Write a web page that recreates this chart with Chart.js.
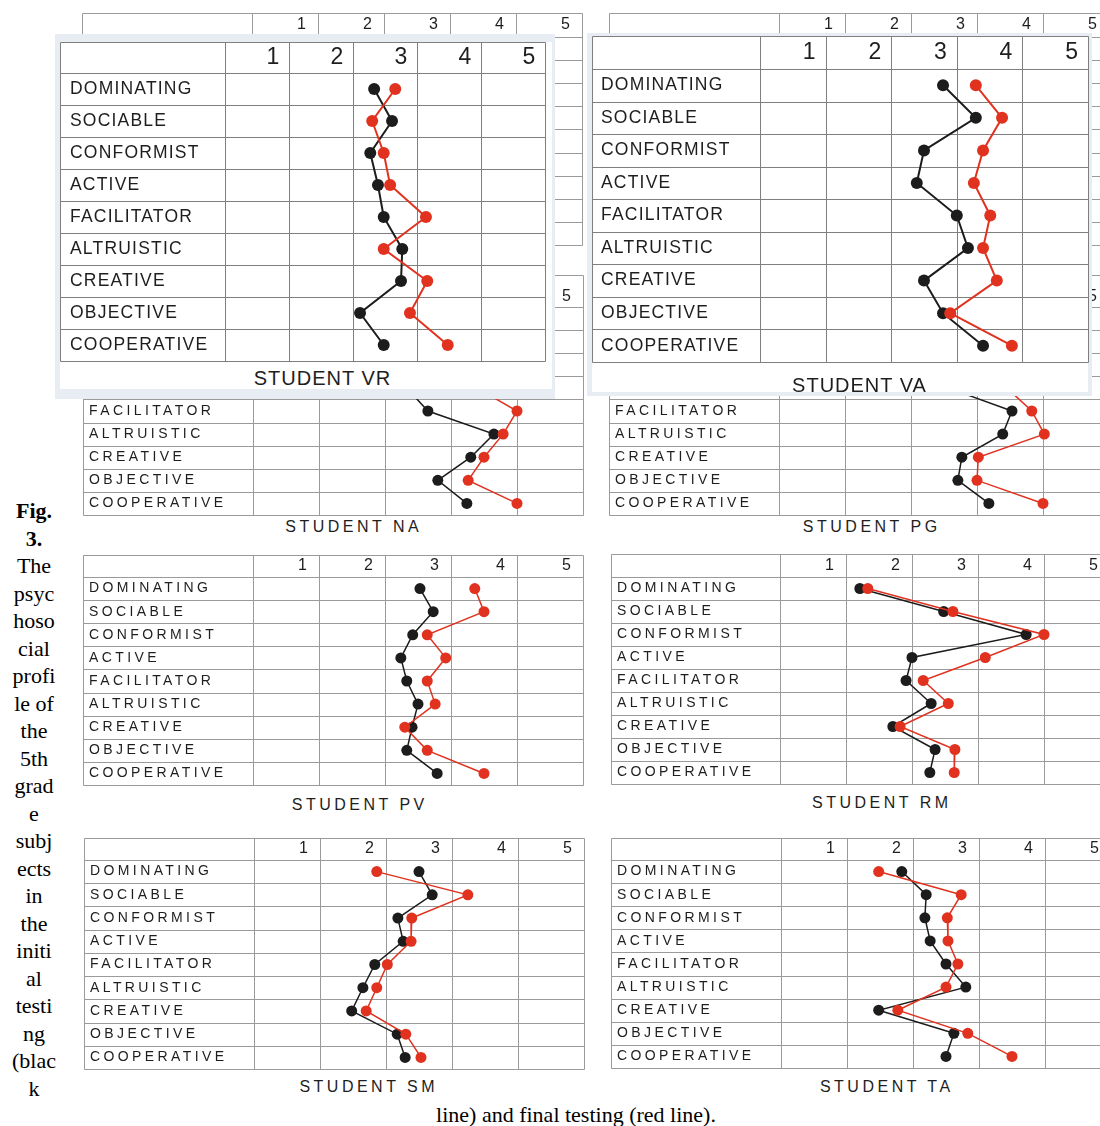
<!DOCTYPE html>
<html>
<head>
<meta charset="utf-8">
<script src="https://cdn.jsdelivr.net/npm/chart.js@4.4.1/dist/chart.umd.min.js"></script>
<style>
  body { margin: 0; width: 1100px; height: 1126px; background: #fff; position: relative; overflow: hidden; font-family: 'Liberation Sans', Arial, sans-serif; }
  .box { position: absolute; background: #fff; border-style: solid; border-color: #e8ecf3; box-sizing: border-box; }
  .ttl { position: absolute; width: 400px; text-align: center; color: #1e1e1e; white-space: nowrap; }
  .cap { position: absolute; font-family: 'Liberation Serif', 'Times New Roman', serif; font-size: 22px; color: #000; text-align: center; white-space: nowrap; }
</style>
</head>
<body>
<script>
// categories and tick labels
const traits = ['DOMINATING', 'SOCIABLE', 'CONFORMIST', 'ACTIVE', 'FACILITATOR', 'ALTRUISTIC', 'CREATIVE', 'OBJECTIVE', 'COOPERATIVE'];
const scaleTicks = [1, 2, 3, 4, 5];

// initial testing (black) / final testing (red); null = hidden behind the front panels
const vrInitial = [2.58, 2.86, 2.52, 2.64, 2.73, 3.02, 3.00, 2.36, 2.73];
const vrFinal   = [2.91, 2.55, 2.73, 2.83, 3.39, 2.73, 3.41, 3.14, 3.73];
const vaInitial = [3.04, 3.54, 2.75, 2.64, 3.25, 3.42, 2.75, 3.04, 3.65];
const vaFinal   = [3.54, 3.94, 3.65, 3.51, 3.76, 3.65, 3.86, 3.15, 4.09];
const naInitial = [null, null, null, 2.58, 2.90, 3.90, 3.55, 3.05, 3.49];
const naFinal   = [null, null, null, 3.64, 4.25, 4.04, 3.75, 3.51, 4.25];
const pgInitial = [null, null, null, 2.81, 3.78, 3.64, 3.02, 2.96, 3.43];
const pgFinal   = [null, null, null, 3.70, 4.08, 4.27, 3.27, 3.25, 4.25];
const pvInitial = [2.78, 2.98, 2.67, 2.49, 2.58, 2.75, 2.66, 2.58, 3.04];
const pvFinal   = [3.61, 3.75, 2.89, 3.17, 2.89, 3.01, 2.55, 2.89, 3.75];
const rmInitial = [1.46, 2.73, 3.98, 2.25, 2.16, 2.54, 1.96, 2.60, 2.52];
const rmFinal   = [1.58, 2.87, 4.25, 3.36, 2.42, 2.80, 2.07, 2.90, 2.89];
const smInitial = [2.75, 2.95, 2.43, 2.51, 2.08, 1.90, 1.73, 2.42, 2.54];
const smFinal   = [2.11, 3.49, 2.64, 2.63, 2.27, 2.11, 1.95, 2.55, 2.78];
const taInitial = [2.08, 2.45, 2.43, 2.51, 2.75, 3.05, 1.73, 2.87, 2.75];
const taFinal   = [1.73, 2.98, 2.77, 2.78, 2.93, 2.75, 2.02, 3.08, 3.75];

const BLACK = '#1c1c1c', RED = '#e0321f';
const small = { labelFont: 14, numFont: 16, ls: 3.4, titleFont: 16, titleLs: 3.5, dot: 5.5, line: 1.5, labelPad: 6, grid: '#9a9a9a' };
const big = { labelFont: 17.5, numFont: 23, ls: 1.2, titleFont: 20, titleLs: 1, dot: 6, line: 2, grid: '#7f7f7f' };

// draws the table lines from the scales, and sets the wide lettering
const tableGrid = {
  id: 'tableGrid',
  beforeDraw(chart, args, opts) {
    chart.ctx.letterSpacing = opts.letterSpacing;
  },
  beforeDatasetsDraw(chart, args, opts) {
    const { ctx, chartArea: a, scales: { x, y } } = chart;
    const left = Math.round(y.left - opts.labelPad) + 0.5;
    const top = Math.round(x.top) + 0.5;
    const bottom = Math.round(a.bottom) + 0.5;
    const right = Math.round(a.right) + 0.5;
    ctx.save();
    ctx.letterSpacing = '0px';
    ctx.strokeStyle = opts.color;
    ctx.lineWidth = 1;
    ctx.beginPath();
    for (let i = 0; i <= traits.length; i++) {
      const py = Math.round(y.getPixelForValue(i - 0.5)) + 0.5;
      ctx.moveTo(left, py); ctx.lineTo(right, py);
    }
    ctx.moveTo(left, top); ctx.lineTo(right, top);
    for (let k = 0; k <= 5; k++) {
      const px = Math.round(x.getPixelForValue(k + 0.25)) + 0.5;
      ctx.moveTo(px, top); ctx.lineTo(px, bottom);
    }
    ctx.moveTo(left, top); ctx.lineTo(left, bottom);
    ctx.stroke();
    ctx.restore();
  }
};

function addBox(b) {
  const d = document.createElement('div');
  d.className = 'box';
  d.style.cssText = `left:${b.left}px;top:${b.top}px;width:${b.width}px;height:${b.height}px;border-width:${b.bw.join('px ')}px;`;
  document.body.appendChild(d);
}

function addTitle(p) {
  if (!p.title) return;
  const d = document.createElement('div');
  d.className = 'ttl';
  const lh = p.titleFont * 1.2;
  d.style.cssText = `left:${p.tx - 200 + p.titleLs / 2}px;top:${p.ty - lh / 2}px;font-size:${p.titleFont}px;line-height:${lh}px;letter-spacing:${p.titleLs}px;`;
  d.textContent = p.title;
  document.body.appendChild(d);
}

function makePanel(p) {
  const w = Math.round(p.labelW + 5 * p.colW + 2);
  const h = Math.round(p.headerH + traits.length * p.rowH + 2);
  const wrap = document.createElement('div');
  wrap.style.cssText = `position:absolute;left:${p.left - 1}px;top:${p.top - 1}px;width:${w}px;height:${h}px;`;
  const canvas = document.createElement('canvas');
  wrap.appendChild(canvas);
  document.body.appendChild(wrap);

  const datasets = [];
  if (p.initial) {
    datasets.push({ data: p.initial, borderColor: BLACK, backgroundColor: BLACK, pointBackgroundColor: BLACK,
      pointRadius: p.dot, pointBorderWidth: 0, borderWidth: p.line, order: 1 });
    datasets.push({ data: p.final, borderColor: RED, backgroundColor: RED, pointBackgroundColor: RED,
      pointRadius: p.dot, pointBorderWidth: 0, borderWidth: p.line, order: 0 });
  }

  const numLh = p.numFont * 1.2;
  new Chart(canvas, {
    type: 'line',
    data: { labels: traits, datasets },
    plugins: [tableGrid],
    options: {
      indexAxis: 'y',
      responsive: true,
      maintainAspectRatio: false,
      animation: false,
      devicePixelRatio: 1,
      layout: { autoPadding: false, padding: { left: 1 + p.labelPad, top: 1, right: 1, bottom: 1 } },
      plugins: {
        legend: { display: false },
        tooltip: { enabled: false },
        tableGrid: { letterSpacing: p.ls + 'px', labelPad: p.labelPad, color: p.grid }
      },
      scales: {
        x: {
          type: 'linear', position: 'top', min: 0.25, max: 5.25,
          grid: { display: false, drawTicks: false }, border: { display: false },
          afterBuildTicks: s => { s.ticks = scaleTicks.map(v => ({ value: v })); },
          afterFit: s => { s.height = p.headerH; s.paddingLeft = 0; s.paddingRight = 0; },
          ticks: {
            autoSkip: false, maxRotation: 0, color: '#1e1e1e',
            font: { family: "'Liberation Sans', Arial, sans-serif", size: p.numFont },
            padding: p.headerH - p.numY - numLh / 2,
            labelOffset: p.ls / 2
          }
        },
        y: {
          type: 'category', offset: true,
          grid: { display: false, drawTicks: false }, border: { display: false },
          afterFit: s => { s.width = p.labelW - p.labelPad; s.paddingTop = 0; s.paddingBottom = 0; },
          ticks: {
            autoSkip: false, crossAlign: 'far', padding: 0, color: '#1e1e1e',
            font: { family: "'Liberation Sans', Arial, sans-serif", size: p.labelFont }
          }
        }
      }
    }
  });
  addTitle(p);
}

// back row, partly covered
makePanel({ ...small, left: 82, top: 13, labelW: 170, colW: 66, headerH: 24, rowH: 23.1, numY: 12 });
makePanel({ ...small, left: 609, top: 13, labelW: 170, colW: 66, headerH: 24, rowH: 23.1, numY: 12 });
makePanel({ ...small, left: 83, top: 275, labelW: 170, colW: 66, headerH: 32, rowH: 23.1, numY: 22,
  initial: naInitial, final: naFinal, title: 'STUDENT NA', tx: 352, ty: 527 });
makePanel({ ...small, left: 609, top: 275, labelW: 170, colW: 66, headerH: 32, rowH: 23.1, numY: 22,
  initial: pgInitial, final: pgFinal, title: 'STUDENT PG', tx: 870, ty: 527 });

// front panels
addBox({ left: 55, top: 34, width: 500, height: 365, bw: [8, 3, 10, 5] });
makePanel({ ...big, left: 60, top: 42, labelW: 165, colW: 64, headerH: 31, rowH: 32, numY: 15.5, labelPad: 10,
  initial: vrInitial, final: vrFinal, title: 'STUDENT VR', tx: 322, ty: 378 });
addBox({ left: 587, top: 33, width: 505, height: 363, bw: [3, 4, 4, 5] });
makePanel({ ...big, left: 592, top: 36, labelW: 168, colW: 65.6, headerH: 33, rowH: 32.6, numY: 16.5, labelPad: 9,
  initial: vaInitial, final: vaFinal, title: 'STUDENT VA', tx: 859, ty: 385 });

makePanel({ ...small, left: 83, top: 555, labelW: 170, colW: 66, headerH: 22, rowH: 23.1, numY: 11,
  initial: pvInitial, final: pvFinal, title: 'STUDENT PV', tx: 358, ty: 805 });
makePanel({ ...small, left: 611, top: 554, labelW: 169, colW: 66, headerH: 23, rowH: 23, numY: 11.5,
  initial: rmInitial, final: rmFinal, title: 'STUDENT RM', tx: 880, ty: 803 });
makePanel({ ...small, left: 84, top: 838, labelW: 170, colW: 66, headerH: 22, rowH: 23.2, numY: 11,
  initial: smInitial, final: smFinal, title: 'STUDENT SM', tx: 367, ty: 1087 });
makePanel({ ...small, left: 611, top: 838, labelW: 170, colW: 66, headerH: 22, rowH: 23.1, numY: 11,
  initial: taInitial, final: taFinal, title: 'STUDENT TA', tx: 885, ty: 1087 });

// caption
const capLines = ['The', 'psyc', 'hoso', 'cial', 'profi', 'le of', 'the', '5th', 'grad', 'e', 'subj', 'ects',
  'in', 'the', 'initi', 'al', 'testi', 'ng', '(blac', 'k'];
const cap = document.createElement('div');
cap.className = 'cap';
cap.style.cssText = 'left:0;top:497px;width:68px;line-height:27.5px;';
cap.innerHTML = '<b>Fig.</b><br><b>3.</b><br>' + capLines.join('<br>');
document.body.appendChild(cap);
const cap2 = document.createElement('div');
cap2.className = 'cap';
cap2.style.cssText = 'left:376px;top:1101px;width:400px;line-height:27px;';
cap2.textContent = 'line) and final testing (red line).';
document.body.appendChild(cap2);
</script>
</body>
</html>
